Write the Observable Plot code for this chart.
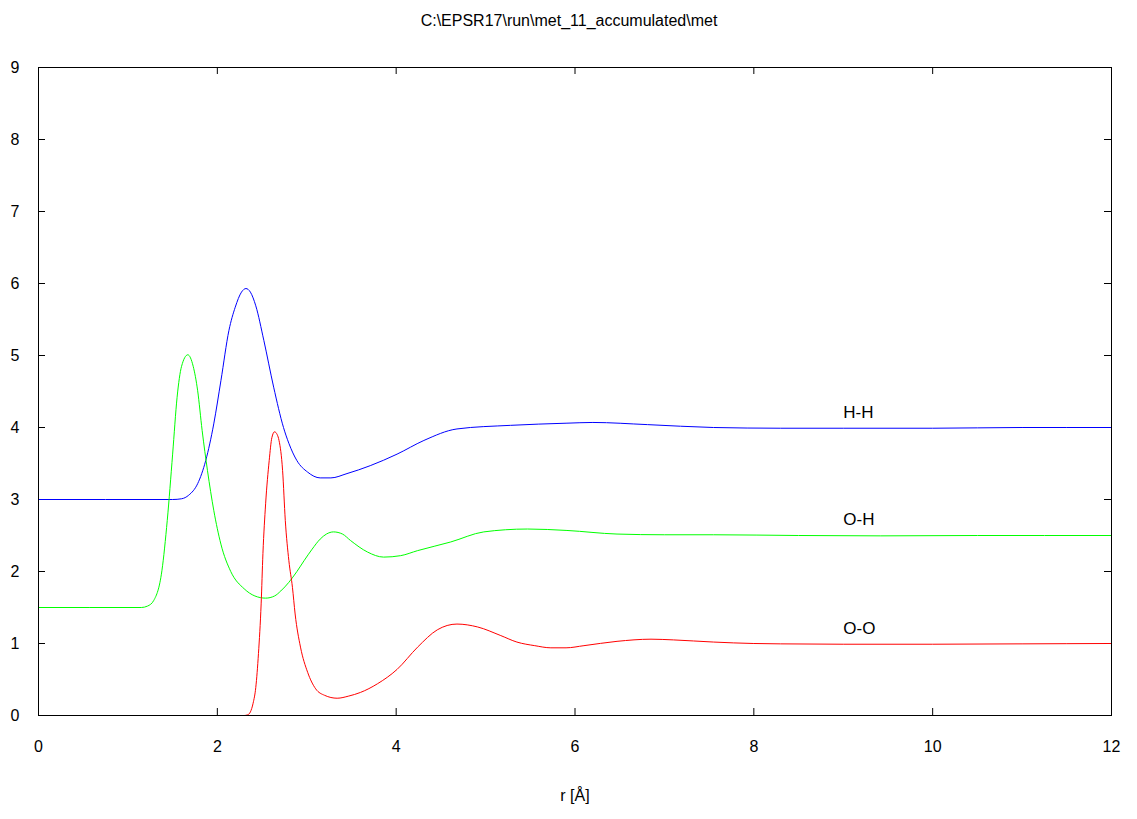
<!DOCTYPE html>
<html>
<head>
<meta charset="utf-8">
<script src="https://cdn.jsdelivr.net/npm/d3@7"></script>
<script src="https://cdn.jsdelivr.net/npm/@observablehq/plot@0.6"></script>
<style>
  body { margin: 0; background: white; }
  #chart svg { display: block; }
</style>
</head>
<body>
<div id="chart"></div>
<script>
const title = "C:\\EPSR17\\run\\met_11_accumulated\\met";
const xLabel = "r [Å]";
const xTicks = [0, 2, 4, 6, 8, 10, 12];
const yTicks = [0, 1, 2, 3, 4, 5, 6, 7, 8, 9];
const seriesNames = ["H-H", "O-H", "O-O"];
const seriesColors = ["#0000ff", "#00ff00", "#ff0000"];
const labelR = 9;

const rOO = [0, 2.30, 2.34, 2.37, 2.40, 2.43, 2.46, 2.49, 2.51, 2.54, 2.58, 2.61, 2.64, 2.67, 2.69, 2.73, 2.76, 2.80, 2.84, 2.87, 2.93, 3.01, 3.10, 3.20, 3.34, 3.47, 3.60, 3.79, 4.01, 4.24, 4.46, 4.68, 4.91, 5.17, 5.35, 5.55, 5.73, 5.90, 6.10, 6.47, 6.85, 7.10, 7.55, 8.0, 8.3, 9, 10, 11, 12];
const gOO = [0, 0, 0.01, 0.05, 0.17, 0.39, 0.86, 1.55, 2.25, 2.94, 3.54, 3.86, 3.94, 3.90, 3.82, 3.40, 2.71, 2.15, 1.78, 1.41, 0.95, 0.60, 0.37, 0.28, 0.24, 0.27, 0.32, 0.44, 0.64, 0.95, 1.19, 1.27, 1.23, 1.11, 1.02, 0.97, 0.94, 0.94, 0.97, 1.03, 1.06, 1.05, 1.02, 1.0, 0.995, 0.99, 0.99, 0.995, 1.0];

const rOH = [0, 1.15, 1.22, 1.29, 1.38, 1.44, 1.50, 1.55, 1.60, 1.67, 1.73, 1.78, 1.83, 1.89, 1.96, 2.04, 2.15, 2.30, 2.42, 2.54, 2.64, 2.71, 2.80, 2.89, 2.97, 3.06, 3.15, 3.22, 3.30, 3.40, 3.49, 3.68, 3.86, 4.05, 4.24, 4.61, 4.98, 5.47, 5.91, 6.47, 7.0, 7.55, 8.5, 9.42, 10.5, 12];
const gOH = [1.5, 1.5, 1.52, 1.60, 2.01, 2.71, 3.63, 4.42, 4.85, 5.01, 4.85, 4.51, 3.96, 3.40, 2.85, 2.38, 2.0, 1.76, 1.66, 1.63, 1.66, 1.73, 1.85, 2.00, 2.15, 2.31, 2.45, 2.52, 2.55, 2.52, 2.43, 2.27, 2.20, 2.22, 2.29, 2.41, 2.55, 2.59, 2.57, 2.52, 2.51, 2.51, 2.50, 2.495, 2.50, 2.50];

const rHH = [0, 1.50, 1.60, 1.68, 1.78, 1.87, 1.96, 2.04, 2.13, 2.20, 2.27, 2.32, 2.37, 2.43, 2.52, 2.63, 2.74, 2.80, 2.89, 3.01, 3.15, 3.27, 3.45, 3.71, 4.01, 4.31, 4.68, 5.28, 5.91, 6.20, 6.81, 7.55, 8.30, 9, 10, 11, 12];
const gHH = [3.0, 3.0, 3.01, 3.06, 3.22, 3.54, 4.05, 4.65, 5.35, 5.67, 5.88, 5.93, 5.88, 5.69, 5.21, 4.56, 4.00, 3.78, 3.54, 3.38, 3.30, 3.30, 3.36, 3.47, 3.63, 3.82, 3.98, 4.03, 4.06, 4.07, 4.04, 4.00, 3.99, 3.99, 3.99, 4.0, 4.0];

const seriesR = [rHH, rOH, rOO];
const seriesG = [gHH, gOH, gOO];

const data = [];
seriesNames.forEach((name, i) => {
  seriesR[i].forEach((r, j) => data.push({series: name, r, g: seriesG[i][j]}));
});
const labels = seriesNames.map((name, i) => {
  const j = seriesR[i].findIndex(r => r >= labelR);
  return {series: name, r: labelR, g: seriesG[i][j]};
});

const font = "'Liberation Sans', Arial, sans-serif";
const plot = Plot.plot({
  width: 1137,
  height: 819,
  marginLeft: 38,
  marginRight: 26,
  marginTop: 67,
  marginBottom: 104,
  style: {fontFamily: font, fontSize: "16px", color: "black", background: "white"},
  x: {domain: [0, 12], ticks: xTicks, label: null},
  y: {domain: [0, 9], ticks: yTicks, label: null},
  color: {domain: seriesNames, range: seriesColors},
  marks: [
    Plot.axisX(xTicks, {tickSize: 0, tickPadding: 25, fontSize: 16, label: null, tickFormat: d => String(d)}),
    Plot.axisY(yTicks, {tickSize: 0, tickPadding: 19, fontSize: 16, label: null, tickFormat: d => String(d)}),
    Plot.tickX(xTicks, {x: d => d, insetTop: 641, stroke: "black"}),
    Plot.tickX(xTicks, {x: d => d, insetBottom: 641, stroke: "black"}),
    Plot.tickY(yTicks, {y: d => d, insetRight: 1066, stroke: "black"}),
    Plot.tickY(yTicks, {y: d => d, insetLeft: 1066, stroke: "black"}),
    Plot.line(data, {x: "r", y: "g", z: "series", stroke: "series", strokeWidth: 1, curve: "monotone-x"}),
    Plot.frame({stroke: "black", strokeWidth: 1}),
    Plot.text(labels, {x: "r", y: "g", text: "series", textAnchor: "start", dy: -16, fontSize: 17, fill: "black"}),
    Plot.text([title], {text: d => d, frameAnchor: "top", dy: -53, dx: -6, fontSize: 16, fill: "black"}),
    Plot.text([xLabel], {text: d => d, frameAnchor: "bottom", dy: 85, fontSize: 16, fill: "black"})
  ]
});
document.getElementById("chart").appendChild(plot);
</script>
</body>
</html>
